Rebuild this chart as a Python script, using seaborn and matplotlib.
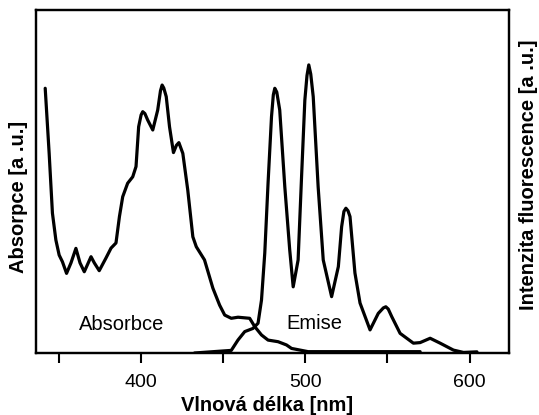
import numpy as np
import pandas as pd
import matplotlib
matplotlib.use("Agg")
import matplotlib.pyplot as plt
import seaborn as sns

# Absorption spectrum (normalized, arbitrary units)
abs_wl = [341.6, 344.0, 346.0, 348.1, 350.1, 352.1, 354.6, 357.3, 360.3, 362.8,
          365.4, 369.5, 371.5, 374.5, 378.6, 381.7, 384.7, 386.8, 388.8, 391.8,
          394.9, 396.9, 398.5, 400.0, 401.0, 402.3, 404.0, 407.1, 410.1, 411.8,
          412.8, 413.8, 415.3, 417.3, 419.7, 421.5, 423.0, 425.4, 428.4, 431.5,
          433.6, 438.6, 443.7, 447.8, 450.9, 454.9, 459.0, 466.1, 469.2, 473.3,
          477.3, 483.4, 488.5, 491.6, 501.7, 527.2, 569.9]
abs_val = [0.984, 0.743, 0.520, 0.420, 0.364, 0.339, 0.296, 0.335, 0.389, 0.335,
           0.302, 0.358, 0.335, 0.306, 0.353, 0.390, 0.409, 0.507, 0.581, 0.631,
           0.655, 0.693, 0.841, 0.885, 0.897, 0.890, 0.866, 0.829, 0.903, 0.975,
           0.996, 0.985, 0.953, 0.841, 0.745, 0.772, 0.782, 0.742, 0.606, 0.432,
           0.395, 0.346, 0.241, 0.178, 0.141, 0.129, 0.133, 0.129, 0.098, 0.067,
           0.048, 0.042, 0.030, 0.017, 0.005, 0.005, 0.005]

# Emission spectrum (normalized, arbitrary units)
em_wl = [432.5, 449.8, 454.9, 459.0, 463.1, 468.1, 471.2, 473.3, 475.3, 477.3,
         479.4, 480.5, 481.4, 482.6, 484.4, 487.5, 490.5, 492.6, 495.6, 497.7,
         499.7, 501.0, 502.1, 503.3, 504.8, 507.8, 510.9, 516.0, 520.1, 522.1,
         523.5, 524.7, 526.0, 527.2, 530.2, 533.3, 539.4, 544.4, 547.5, 549.0,
         550.5, 552.6, 557.7, 565.8, 569.9, 576.0, 582.1, 590.2, 596.3, 604.5]
em_val = [0.000, 0.007, 0.009, 0.045, 0.074, 0.085, 0.103, 0.183, 0.346, 0.588,
          0.818, 0.893, 0.916, 0.903, 0.841, 0.575, 0.356, 0.229, 0.322, 0.610,
          0.875, 0.960, 0.997, 0.965, 0.887, 0.575, 0.322, 0.195, 0.299, 0.437,
          0.490, 0.501, 0.492, 0.472, 0.277, 0.173, 0.080, 0.137, 0.156, 0.160,
          0.152, 0.126, 0.068, 0.034, 0.036, 0.051, 0.034, 0.010, 0.002, 0.004]

x_ticks = [350, 400, 450, 500, 550, 600]
x_tick_labels = ["", "400", "", "500", "", "600"]

sns.set_style("white")
plt.rcParams['font.family'] = ['Liberation Sans', 'DejaVu Sans']
plt.rcParams['text.color'] = 'black'
plt.rcParams['axes.labelcolor'] = 'black'
plt.rcParams['xtick.color'] = 'black'
plt.rcParams['ytick.color'] = 'black'

fig = plt.figure(figsize=(5.39, 4.15), dpi=100)
ax = fig.add_axes([0.0668, 0.1494, 0.8775, 0.8265])
ax2 = ax.twinx()

df_abs = pd.DataFrame({"wl": abs_wl, "val": abs_val})
df_em = pd.DataFrame({"wl": em_wl, "val": em_val})

sns.lineplot(data=df_abs, x="wl", y="val", ax=ax, color="black", lw=2.3,
             estimator=None, sort=False)
sns.lineplot(data=df_em, x="wl", y="val", ax=ax2, color="black", lw=2.3,
             estimator=None, sort=False)

ax.set_xlim(336, 624)
ax.set_ylim(0, 1.275)
ax2.set_ylim(0, 1.187)

ax.set_xticks(x_ticks)
ax.set_xticklabels(x_tick_labels)
ax.set_yticks([])
ax2.set_yticks([])

ax.tick_params(axis='x', direction='out', length=7, width=1.5, pad=8,
               labelsize=14, colors='black', bottom=True)

for a in (ax, ax2):
    for s in a.spines.values():
        s.set_color('black')
        s.set_linewidth(1.6)

ax.set_xlabel("Vlnová délka [nm]", fontsize=14.5, fontweight='bold', color='black')
ax.set_ylabel("Absorpce [a .u.]", fontsize=14.5, fontweight='bold', color='black')
ax2.set_ylabel("Intenzita fluorescence [a .u.]", fontsize=14.5, fontweight='bold',
               color='black')
ax.yaxis.set_label_coords(-0.017, 0.455)
ax2.yaxis.set_label_coords(1.021, 0.519)
ax.xaxis.set_label_coords(0.488, -0.125)

ax.text(0.091, 0.067, "Absorbce", transform=ax.transAxes, fontsize=14.5,
        ha='left', va='baseline', color='black')
ax.text(0.530, 0.070, "Emise", transform=ax.transAxes, fontsize=14.5,
        ha='left', va='baseline', color='black')

fig.savefig("out.png", dpi=100)
